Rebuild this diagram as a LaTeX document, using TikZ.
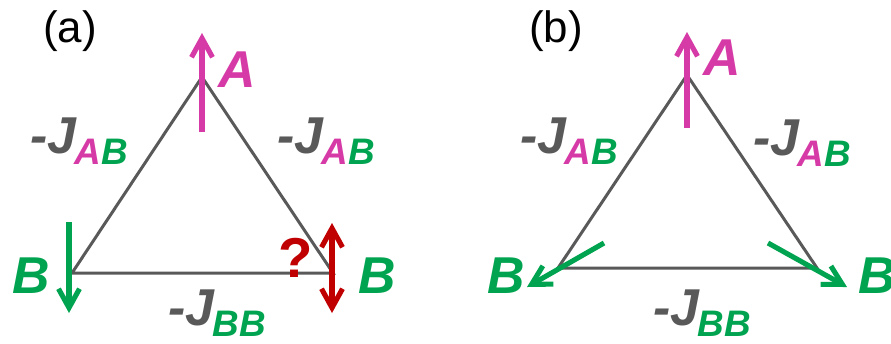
\documentclass[tikz,border=0pt]{standalone}
\usepackage{fontspec}
\setmainfont{Liberation Sans}
\usepackage{tikz}
\usetikzlibrary{arrows.meta}
\definecolor{spinA}{RGB}{214,58,166}
\definecolor{spinB}{RGB}{0,163,80}
\definecolor{frust}{RGB}{192,0,0}
\definecolor{bond}{RGB}{89,89,89}
\newcommand{\cpl}[1]{\textcolor{bond}{-J}\kern-1pt\raisebox{-6.8pt}{\fontsize{21}{21}\selectfont #1}}
\newcommand{\AB}{\textcolor{spinA}{A}\textcolor{spinB}{B}}
\newcommand{\BB}{\textcolor{spinB}{BB}}

\begin{document}
\begin{tikzpicture}[x=0.02cm, y=-0.02cm,
  edge/.style={draw=bond, line width=1.7pt},
  spin/.style={line width=2.9pt, -{Straight Barb[length=3.8mm, width=4.2mm]}},
  lbl/.style={inner sep=0pt, anchor=base west, font=\fontsize{29.5}{30}\selectfont\bfseries\itshape},
  tag/.style={inner sep=0pt, font=\fontsize{25}{25}\selectfont}]
  \useasboundingbox (0,0) rectangle (891,343);
  % panel (a)
  \coordinate (a1) at (202,77);
  \coordinate (a2) at (72,273);
  \coordinate (a3) at (333,273);
  \draw[edge] (a1) -- (a2) -- (a3) -- cycle;
  \node[tag] (ta) at (70,31) {(a)};
  \coordinate (sa1) at (202,132);
  \coordinate (ea1) at (202,33);
  \draw[spin, spinA] (sa1) -- (ea1);
  \coordinate (sa2) at (69,222);
  \coordinate (ea2) at (69,313);
  \draw[spin, spinB] (sa2) -- (ea2);
  \coordinate (sa3) at (332,223);
  \coordinate (ea3) at (332,313);
  \draw[spin, frust, {Straight Barb[length=3.8mm, width=4.2mm]}-{Straight Barb[length=3.8mm, width=4.2mm]}] (sa3) -- (ea3);
  \node[lbl, spinA] (la1) at (218,87) {A};
  \node[lbl, spinB] (la2) at (12,293) {B};
  \node[lbl, spinB] (la3) at (358,293) {B};
  \node[lbl, frust, font=\fontsize{32}{32}\selectfont\bfseries] (q) at (278,277) {?};
  \node[lbl] (jal) at (30,153) {\cpl{\AB}};
  \node[lbl] (jar) at (277,153) {\cpl{\AB}};
  \node[lbl] (jab) at (168,325) {\cpl{\BB}};
  % panel (b)
  \coordinate (b1) at (687,75);
  \coordinate (b2) at (558,268);
  \coordinate (b3) at (817,268);
  \draw[edge] (b1) -- (b2) -- (b3) -- cycle;
  \node[tag] (tb) at (556,31) {(b)};
  \coordinate (sb1) at (687,128);
  \coordinate (eb1) at (687,32);
  \draw[spin, spinA] (sb1) -- (eb1);
  \coordinate (sb2) at (604,243);
  \coordinate (eb2) at (527,287);
  \draw[spin, spinB] (sb2) -- (eb2);
  \coordinate (sb3) at (768,243);
  \coordinate (eb3) at (847,287);
  \draw[spin, spinB] (sb3) -- (eb3);
  \node[lbl, spinA] (lb1) at (703,75) {A};
  \node[lbl, spinB] (lb2) at (487,293) {B};
  \node[lbl, spinB] (lb3) at (858,293) {B};
  \node[lbl] (jbl) at (520,153) {\cpl{\AB}};
  \node[lbl] (jbr) at (753,155) {\cpl{\AB}};
  \node[lbl] (jbb) at (653,325) {\cpl{\BB}};
\end{tikzpicture}
\end{document}
